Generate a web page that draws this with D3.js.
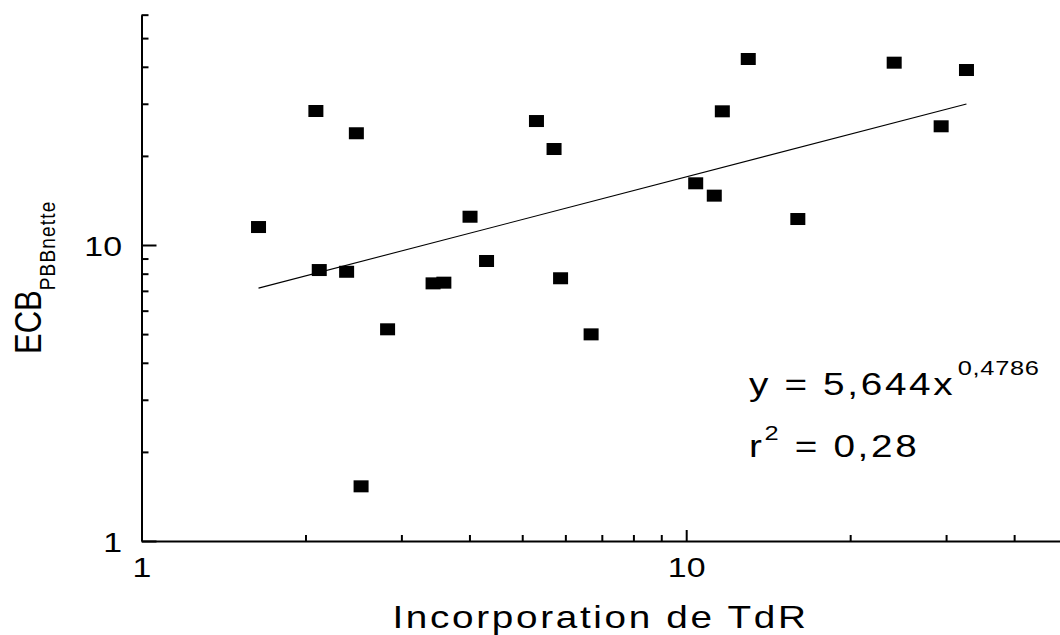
<!DOCTYPE html>
<html>
<head>
<meta charset="utf-8">
<script src="https://cdn.jsdelivr.net/npm/d3@7/dist/d3.min.js"></script>
<style>
  html, body { margin: 0; padding: 0; background: #fff; }
  svg { display: block; }
  text { font-family: "Liberation Sans", Arial, Helvetica, sans-serif; fill: #000; }
</style>
</head>
<body>
<svg id="chart" width="1060" height="635"></svg>
<script>
// ---- data ----
const xValues = [1.64, 2.09, 2.12, 2.38, 2.48, 2.53, 2.83, 3.43, 3.59, 4.01, 4.30, 5.31, 5.72, 5.88, 6.69, 10.41, 11.26, 11.65, 13.00, 16.03, 24.09, 29.38, 32.70];
const yValues = [11.50, 28.36, 8.23, 8.12, 23.85, 1.53, 5.19, 7.42, 7.46, 12.46, 8.83, 26.23, 21.10, 7.72, 4.99, 16.16, 14.68, 28.29, 42.50, 12.24, 41.30, 25.18, 39.01];
const trendX = [1.64, 32.70];
const trendY = [7.15, 29.95];
const xMinorTicks = [2, 3, 4, 5, 6, 7, 8, 9, 20, 30, 40];
const xMajorTicks = [1, 10];
const yMinorTicks = [2, 3, 4, 5, 6, 7, 8, 9, 20, 30, 40, 50, 60];
const yMajorTicks = [1, 10];
const xTitle = "Incorporation de TdR";
const yTitleMain = "ECB";
const yTitleSub = "PBBnette";
const eqLine1 = "y = 5,644x";
const eqExp = "0,4786";
const eqLine2a = "r";
const eqLine2sup = "2";
const eqLine2b = " = 0,28";

// ---- layout ----
const SX = 1.21;               // horizontal stretch of the original artwork
const x0 = 141.5, decX = 544.7;
const y0 = 541, decY = 296;
const svg = d3.select("#chart");

const x = d3.scaleLog().domain([1, 50]).range([x0, x0 + decX * Math.log10(50)]);
const y = d3.scaleLog().domain([1, 60]).range([y0, y0 - decY * Math.log10(60)]);

// ---- x axis ----
const gx = svg.append("g").attr("transform", `translate(0,${y0})`);
gx.call(d3.axisBottom(x).tickValues(xMinorTicks).tickSizeInner(-6).tickSizeOuter(0).tickFormat(""));
gx.call(g => g.select(".domain").attr("stroke-width", 2));
gx.selectAll(".tick line").attr("stroke-width", 2);
const gxMaj = svg.append("g").attr("transform", `translate(0,${y0})`);
gxMaj.call(d3.axisBottom(x).tickValues(xMajorTicks).tickSizeInner(-11).tickSizeOuter(0).tickPadding(0).tickFormat(d3.format("d")));
gxMaj.select(".domain").remove();
gxMaj.selectAll(".tick line").attr("stroke-width", 2).filter(d => d === 1).remove();
gxMaj.selectAll(".tick text")
  .attr("y", 16).attr("dy", "0.71em")
  .attr("font-size", 28)
  .attr("font-family", "Liberation Sans, Arial, sans-serif")
  .attr("transform", `scale(${SX},1)`);

// ---- y axis ----
const gy = svg.append("g").attr("transform", `translate(${x0},0)`);
gy.call(d3.axisLeft(y).tickValues(yMinorTicks).tickSizeInner(-7).tickSizeOuter(0).tickFormat(""));
gy.select(".domain").attr("stroke-width", 2);
gy.selectAll(".tick line").attr("stroke-width", 2);
const gyMaj = svg.append("g").attr("transform", `translate(${x0},0)`);
gyMaj.call(d3.axisLeft(y).tickValues(yMajorTicks).tickSizeInner(-15).tickSizeOuter(0).tickPadding(0).tickFormat(d3.format("d")));
gyMaj.select(".domain").remove();
gyMaj.selectAll(".tick line").attr("stroke-width", 2);
gyMaj.selectAll(".tick text")
  .attr("x", -19.5 / SX).attr("dy", "0.36em")
  .attr("font-size", 28)
  .attr("font-family", "Liberation Sans, Arial, sans-serif")
  .attr("transform", `scale(${SX},1)`);

// ---- trend line ----
const line = d3.line().x((d, i) => x(d)).y((d, i) => y(trendY[i]));
svg.append("path")
  .attr("d", line(trendX))
  .attr("fill", "none").attr("stroke", "#000").attr("stroke-width", 1.1);

// ---- points ----
const pts = xValues.map((v, i) => ({ x: v, y: yValues[i] }));
const mw = 15, mh = 12;
svg.append("g").selectAll("rect").data(pts).join("rect")
  .attr("x", d => x(d.x) - mw / 2)
  .attr("y", d => y(d.y) - mh / 2)
  .attr("width", mw).attr("height", mh)
  .attr("fill", "#000");

// ---- x title ----
svg.append("text")
  .attr("transform", `translate(600.5,628) scale(${SX},1)`)
  .attr("text-anchor", "middle")
  .attr("font-size", 32)
  .attr("letter-spacing", 2.2)
  .text(xTitle);

// ---- y title ----
const yt = svg.append("text")
  .attr("transform", `translate(40.7,354) scale(${SX},1) rotate(-90)`)
  .attr("text-anchor", "start")
  .attr("font-size", 31);
yt.append("tspan").text(yTitleMain);
yt.append("tspan").attr("font-size", 19).attr("letter-spacing", 1.2).attr("dy", 11.5).text(yTitleSub);

// ---- equation ----
const eq1 = svg.append("text")
  .attr("transform", `translate(749,395) scale(${SX},1)`)
  .attr("font-size", 32).attr("letter-spacing", 2.2);
eq1.append("tspan").text(eqLine1);
eq1.append("tspan").attr("font-size", 21).attr("letter-spacing", 0.6).attr("dx", 2).attr("dy", -20).text(eqExp);

const eq2 = svg.append("text")
  .attr("transform", `translate(749,457) scale(${SX},1)`)
  .attr("font-size", 32).attr("letter-spacing", 2.2);
eq2.append("tspan").text(eqLine2a);
eq2.append("tspan").attr("font-size", 21).attr("dy", -17).text(eqLine2sup);
eq2.append("tspan").attr("dy", 17).text(eqLine2b);
</script>
</body>
</html>
